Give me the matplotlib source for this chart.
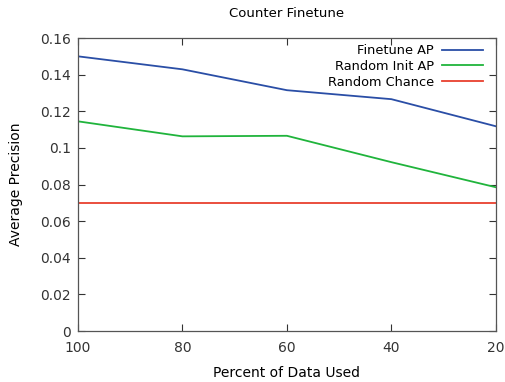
import matplotlib
matplotlib.use('Agg')
import matplotlib.pyplot as plt

# data
percent = [100, 80, 60, 40, 20]
finetune_ap = [0.1500, 0.1429, 0.1315, 0.1266, 0.1118]
random_init_ap = [0.1145, 0.1063, 0.1066, 0.0922, 0.0785]
random_chance = [0.0697, 0.0697, 0.0697, 0.0697, 0.0697]

plt.rcParams['font.family'] = ['DejaVu Sans']

fig = plt.figure(figsize=(5.06, 3.82), dpi=100)
ax = fig.add_axes([0.154, 0.1335, 0.826, 0.767])

ax.plot(percent, finetune_ap, color='#2a4ea6', lw=1.3, label='Finetune AP')
ax.plot(percent, random_init_ap, color='#20b43c', lw=1.3, label='Random Init AP')
ax.plot(percent, random_chance, color='#e8402e', lw=1.3, label='Random Chance')

ax.set_xlim(100, 20)
ax.set_ylim(0, 0.16)
ax.set_xticks([100, 80, 60, 40, 20])
ax.set_yticks([0, 0.02, 0.04, 0.06, 0.08, 0.1, 0.12, 0.14, 0.16])
ax.set_yticklabels(['0', '0.02', '0.04', '0.06', '0.08', '0.1', '0.12', '0.14', '0.16'])
ax.tick_params(direction='in', top=True, right=True, length=5, width=0.8,
               labelsize=10, colors='#333333', pad=5)
ax.tick_params(axis='x', pad=7)
for s in ax.spines.values():
    s.set_color('#555555')
    s.set_linewidth(0.9)

ax.set_xlabel('Percent of Data Used', fontsize=10, labelpad=8)
ax.set_ylabel('Average Precision', fontsize=10, labelpad=12)
ax.set_title('Counter Finetune', fontsize=9.5, pad=15)

ax.legend(loc='upper right', bbox_to_anchor=(1 - 8 / 418, 1 - 1 / 293),
          frameon=False, markerfirst=False, fontsize=9.3,
          handlelength=3.15, labelspacing=0.22, borderaxespad=0, handletextpad=0.65)

fig.savefig('out.png', dpi=100)
